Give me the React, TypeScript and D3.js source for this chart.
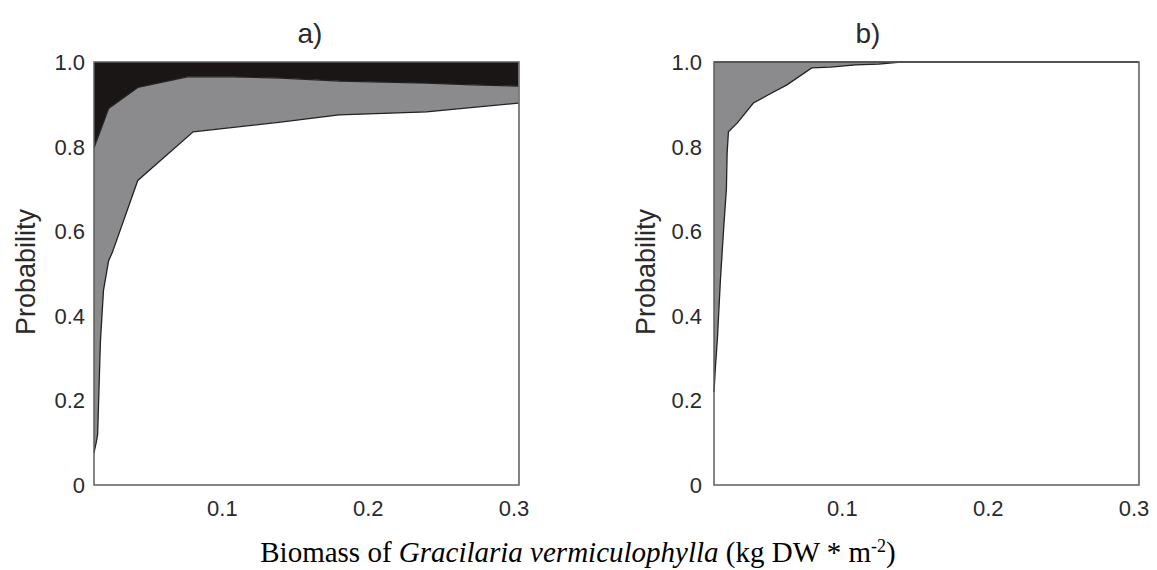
import React from "react";
import * as d3 from "d3";

// ---- data ----
const xTicks = [0.1, 0.2, 0.3];
const xTickLabels = ["0.1", "0.2", "0.3"];
const yTicks = [0, 0.2, 0.4, 0.6, 0.8, 1.0];
const yTickLabels = ["0", "0.2", "0.4", "0.6", "0.8", "1.0"];

// panel a: cumulative probability boundaries
const aLowX = [0.012, 0.0135, 0.0145, 0.0164, 0.0185, 0.022, 0.0246, 0.042, 0.08, 0.14, 0.18, 0.24, 0.303];
const aLowY = [0.076, 0.1, 0.12, 0.34, 0.46, 0.53, 0.55, 0.72, 0.835, 0.858, 0.875, 0.882, 0.903];
const aUpX = [0.012, 0.022, 0.042, 0.076, 0.107, 0.14, 0.181, 0.24, 0.272, 0.303];
const aUpY = [0.797, 0.89, 0.94, 0.965, 0.965, 0.962, 0.955, 0.95, 0.946, 0.943];

// panel b
const bLowX = [0.012, 0.013, 0.0144, 0.0164, 0.0185, 0.0205, 0.021, 0.0219, 0.028, 0.039, 0.049, 0.062, 0.079, 0.092, 0.109, 0.125, 0.14, 0.303];
const bLowY = [0.22, 0.28, 0.35, 0.485, 0.6, 0.7, 0.785, 0.835, 0.856, 0.903, 0.922, 0.946, 0.986, 0.988, 0.993, 0.995, 1.0, 1.0];
const bUpX = [0.012, 0.303];
const bUpY = [1.0, 1.0];

const titles = ["a)", "b)"];
const yLabel = "Probability";

const W = 1157;
const H = 570;
const GRAY = "#8b8b8e";
const BLACK = "#1b1616";
const TXT = "#2a2a2a";

type Pt = [number, number];
const zip = (xs: number[], ys: number[]): Pt[] => xs.map((x, i) => [x, ys[i]]);

function Panel({ left, titleX, lowX, lowY, upX, upY, title, labelX, tickX }: any) {
  const x = d3.scaleLinear().domain([0.012, 0.3034]).range([left, left + 425]);
  const y = d3.scaleLinear().domain([0, 1]).range([485, 62]);
  const low = zip(lowX, lowY);
  const up = zip(upX, upY);
  const areaTo = (base: number) =>
    d3.area<Pt>().x((d) => x(d[0])).y0(y(base)).y1((d) => y(d[1]));
  const line = d3.line<Pt>().x((d) => x(d[0])).y((d) => y(d[1]));
  const [x0, x1] = x.range();
  return (
    <g>
      <path d={areaTo(1)(up) || ""} fill={BLACK} />
      <path d={areaTo(0)(up) || ""} fill={GRAY} />
      <path d={areaTo(0)(low) || ""} fill="#ffffff" />
      <path d={line(up) || ""} fill="none" stroke="#222" strokeWidth={1.3} />
      <path d={line(low) || ""} fill="none" stroke="#222" strokeWidth={1.3} />
      <rect x={x0} y={y(1)} width={x1 - x0} height={y(0) - y(1)} fill="none" stroke="#5e5e5e" strokeWidth={1.5} />
      {yTicks.map((t, i) => (
        <text key={i} x={tickX} y={y(t)} dy="0.36em" textAnchor="end" fontSize={22} fill={TXT}
          fontFamily="'Liberation Sans', Arial, sans-serif">{yTickLabels[i]}</text>
      ))}
      {xTicks.map((t, i) => (
        <text key={i} x={x(t)} y={516} textAnchor="middle" fontSize={22} fill={TXT}
          fontFamily="'Liberation Sans', Arial, sans-serif">{xTickLabels[i]}</text>
      ))}
      <text x={titleX} y={43} textAnchor="middle" fontSize={28} fill={TXT}
        fontFamily="'Liberation Sans', Arial, sans-serif">{title}</text>
      <text transform={`translate(${labelX},${272}) rotate(-90)`} textAnchor="middle" fontSize={27} fill={TXT}
        fontFamily="'Liberation Sans', Arial, sans-serif">{yLabel}</text>
    </g>
  );
}

export default function App() {
  return (
    <svg width={W} height={H} style={{ position: "absolute", left: 0, top: 0, background: "#fff" }}>
      <Panel left={94} titleX={310} lowX={aLowX} lowY={aLowY} upX={aUpX} upY={aUpY} title={titles[0]} labelX={35} tickX={85} />
      <Panel left={714} titleX={868} lowX={bLowX} lowY={bLowY} upX={bUpX} upY={bUpY} title={titles[1]} labelX={655} tickX={702} />
      <text x={578} y={562} textAnchor="middle" fontSize={29} fill="#000"
        fontFamily="'Liberation Serif', 'Times New Roman', serif">
        Biomass of <tspan fontStyle="italic">Gracilaria vermiculophylla</tspan> (kg DW * m
        <tspan dy={-10} fontSize={18}>-2</tspan>
        <tspan dy={10}>)</tspan>
      </text>
    </svg>
  );
}
